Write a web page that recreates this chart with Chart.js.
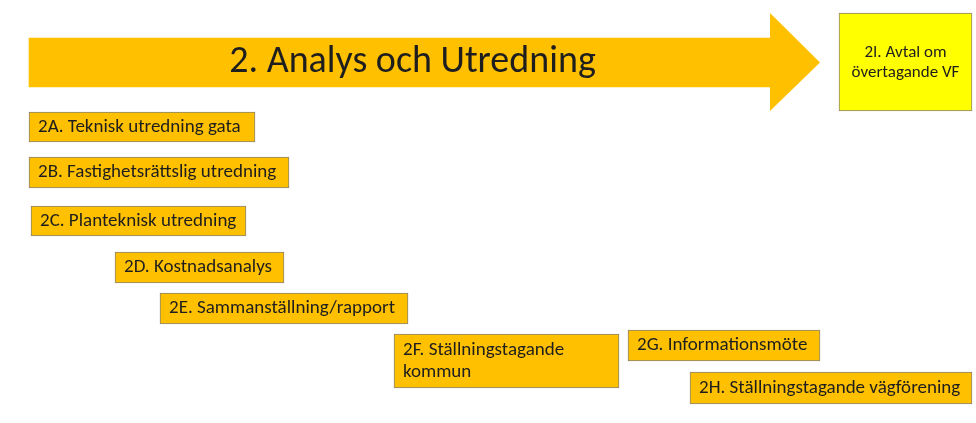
<!DOCTYPE html>
<html>
<head>
<meta charset="utf-8">
<script src="https://cdn.jsdelivr.net/npm/chart.js@4"></script>
<style>
  body { margin: 0; background: #fff; }
  #wrap { width: 976px; height: 423px; }
</style>
</head>
<body>
<div id="wrap"><canvas id="myChart"></canvas></div>
<script>
// DATA: positions on a hidden timeline (x) and row scale (y, top = 0)
const phaseTitle = '2. Analys och Utredning';
const phaseBody = [29, 770];      // arrow shaft start/end
const phaseHead = [770, 820];     // arrow head start/tip
const phaseRow = 62.5;
const phaseSpan = [13, 111];      // arrow head top/bottom
const phaseThickness = 49;

const tasks = [
  ['2A. Teknisk utredning gata'],
  ['2B. Fastighetsrättslig utredning'],
  ['2C. Planteknisk utredning'],
  ['2D. Kostnadsanalys'],
  ['2E. Sammanställning/rapport'],
  ['2F. Ställningstagande', 'kommun'],
  ['2G. Informationsmöte'],
  ['2H. Ställningstagande vägförening'],
  ['2I. Avtal om', 'övertagande VF']
];
const taskStart = [29, 29, 31, 115, 160, 394, 628, 690, 839];
const taskEnd = [255, 289, 246, 284, 408, 619, 820, 972, 972];
const taskRow = [127, 172.5, 221, 267.5, 308.5, 361, 345.5, 388, 62];
const taskHeight = [30, 31, 30, 31, 31, 54, 31, 32, 98];

const ORANGE = '#FFC000';
const YELLOW = '#FFFF00';
const FONT = 'Carlito, Calibri, Lato, sans-serif';

let datasets = [];
datasets.push({
  label: phaseTitle,
  data: [{ x: phaseBody, y: phaseRow }],
  backgroundColor: ORANGE,
  borderWidth: 0,
  barThickness: phaseThickness,
  kind: 'phase'
});
tasks.forEach((t, i) => {
  datasets.push({
    label: t.join(' '),
    data: [{ x: [taskStart[i], taskEnd[i]], y: taskRow[i] }],
    backgroundColor: i === 8 ? YELLOW : ORANGE,
    borderColor: '#8a8470',
    borderWidth: 1,
    borderSkipped: false,
    barThickness: taskHeight[i],
    lines: t,
    kind: i === 8 ? 'milestone' : 'task'
  });
});

const whiteBg = {
  id: 'whiteBg',
  beforeDraw(chart) {
    const ctx = chart.ctx;
    ctx.save();
    ctx.fillStyle = '#fff';
    ctx.fillRect(0, 0, chart.width, chart.height);
    ctx.restore();
  }
};

// arrow head + texts
const labels = {
  id: 'labels',
  afterDatasetsDraw(chart) {
    const ctx = chart.ctx;
    const xs = chart.scales.x;
    const ys = chart.scales.y;
    ctx.save();
    // arrow head
    ctx.fillStyle = ORANGE;
    ctx.beginPath();
    ctx.moveTo(xs.getPixelForValue(phaseHead[0]), ys.getPixelForValue(phaseSpan[0]));
    ctx.lineTo(xs.getPixelForValue(phaseHead[1]), ys.getPixelForValue(phaseRow));
    ctx.lineTo(xs.getPixelForValue(phaseHead[0]), ys.getPixelForValue(phaseSpan[1]));
    ctx.closePath();
    ctx.fill();

    chart.data.datasets.forEach((ds, i) => {
      const bar = chart.getDatasetMeta(i).data[0];
      const p = bar.getProps(['x', 'y', 'base']);
      ctx.fillStyle = '#1e1e1e';
      ctx.textBaseline = 'middle';
      if (ds.kind === 'phase') {
        ctx.font = '38px ' + FONT;
        ctx.textAlign = 'center';
        ctx.fillText(ds.label, (p.base + p.x) / 2 + 13, p.y);
      } else if (ds.kind === 'milestone') {
        ctx.font = '17px ' + FONT;
        ctx.textAlign = 'center';
        const cx = (p.base + p.x) / 2;
        ctx.fillText(ds.lines[0], cx, p.y - 9);
        ctx.fillText(ds.lines[1], cx, p.y + 11);
      } else {
        ctx.font = '19px ' + FONT;
        ctx.textAlign = 'left';
        const lh = 22;
        const y0 = p.y - (ds.lines.length - 1) * lh / 2;
        ds.lines.forEach((ln, k) => ctx.fillText(ln, p.base + 9, y0 + k * lh));
      }
    });
    ctx.restore();
  }
};

const chartLayout = document.getElementById('myChart');
const myChart = new Chart(chartLayout, {
  type: 'bar',
  data: { datasets: datasets },
  options: {
    indexAxis: 'y',
    responsive: true,
    maintainAspectRatio: false,
    animation: false,
    grouped: false,
    layout: { padding: 0 },
    scales: {
      x: { type: 'linear', min: 0, max: 976, display: false },
      y: { type: 'linear', min: 0, max: 423, reverse: true, offset: false, display: false }
    },
    plugins: {
      legend: { display: false },
      tooltip: { enabled: false }
    }
  },
  plugins: [whiteBg, labels]
});
</script>
</body>
</html>
